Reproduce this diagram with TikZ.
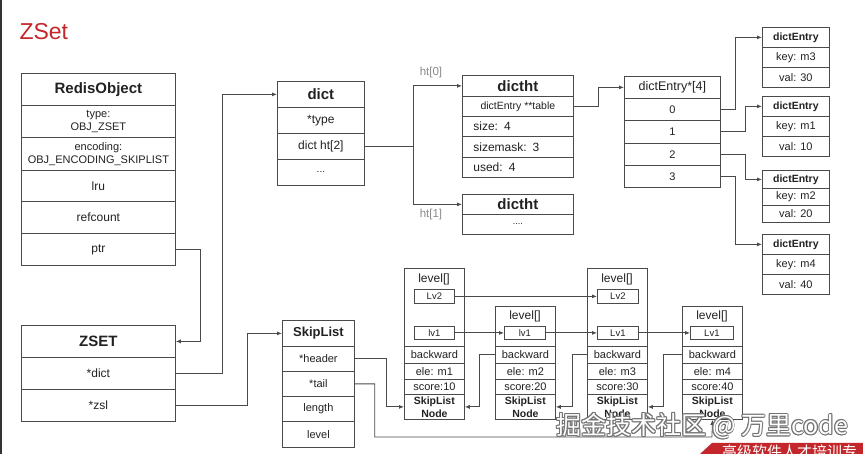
\documentclass[tikz,border=0pt]{standalone}
\usepackage{fontspec}
\setmainfont{Liberation Sans}
\newfontfamily\cjk{Noto Sans CJK SC}
\usetikzlibrary{arrows.meta,calc}
\definecolor{lc}{HTML}{4A4A4A}
\definecolor{tc}{HTML}{222222}
\definecolor{zred}{HTML}{C3272B}
\definecolor{htgray}{HTML}{8A8A8A}
\newcommand\fs[1]{\fontsize{#1}{#1}\selectfont}
% \cb[opts]{name}{x}{y}{w}{h}{text}
\newcommand\cb[7][]{\node[cell,minimum width=#5pt,minimum height=#6pt,#1] (#2) at (#3,#4) {#7};}
\begin{document}
\begin{tikzpicture}[x=1pt,y=-1pt,
  cell/.style={draw=lc,line width=0.8pt,rectangle,inner sep=0pt,anchor=north west,
    align=center,text=tc,font=\fs{11}},
  hd/.style={font=\bfseries\fs{15}},
  two/.style={font=\fontsize{11}{13}\selectfont},
  twob/.style={font=\bfseries\fontsize{10.5}{13}\selectfont},
  lft/.style={text width=#1pt,align=left,font=\fs{12}},
  lvbox/.style={font=\fs{9.5}},
  conn/.style={draw=lc,line width=0.8pt,-{Latex[length=5pt,width=4pt]}},
  plain/.style={draw=lc,line width=0.8pt}]
\useasboundingbox (0,0) rectangle (863,454);
\fill[white] (0,0) rectangle (863,454);
\draw[line width=1.3pt,black!80] (1,0) -- (1,454);

% title
\node[anchor=west,text=zred,font=\fs{23}] (title) at (16,32) {ZSet};

% RedisObject
\cb[hd]{ro}{21}{73}{154}{32}{RedisObject}
\cb[two]{rotype}{21}{105}{154}{32}{type:\\OBJ\_ZSET}
\cb[two]{roenc}{21}{137}{154}{33}{encoding:\\OBJ\_ENCODING\_SKIPLIST}
\cb[font=\fs{12}]{rolru}{21}{170}{154}{31}{lru}
\cb[font=\fs{12}]{rorc}{21}{201}{154}{32}{refcount}
\cb[font=\fs{12}]{roptr}{21}{233}{154}{32}{ptr}

% ZSET
\cb[hd]{zs}{21}{325}{154}{32}{ZSET}
\cb[font=\fs{12}]{zdict}{21}{357}{154}{32}{*dict}
\cb[font=\fs{12}]{zzsl}{21}{389}{154}{32}{*zsl}

% dict
\cb[hd]{dh}{277}{81}{87}{26}{dict}
\cb[font=\fs{12}]{dtype}{277}{107}{87}{26}{*type}
\cb[font=\fs{12}]{dht}{277}{133}{87}{26}{dict ht[2]}
\cb[font=\fs{10}]{ddots}{277}{159}{87}{26}{...}

% dictht 1
\cb[hd]{hA}{462}{75}{111}{21}{dictht}
\cb[font=\fs{10.5}]{hAtbl}{462}{96}{111}{20}{dictEntry **table}
\cb[lft=89]{hAsize}{462}{116}{111}{20}{size: 4}
\cb[lft=89]{hAmask}{462}{136}{111}{21}{sizemask: 3}
\cb[lft=89]{hAused}{462}{157}{111}{20}{used: 4}

% dictht 2
\cb[hd]{hB}{462}{194}{111}{20}{dictht}
\cb[font=\fs{9}]{hBdots}{462}{214}{111}{20}{....}

\node[text=htgray,font=\fs{11.5}] (ht0) at (431,73) {ht[0]};
\node[text=htgray,font=\fs{11.5}] (ht1) at (431,215) {ht[1]};

% dictEntry*[4]
\cb[font=\fs{12.5}]{dea}{624}{76}{96}{22}{dictEntry*[4]}
\cb{da0}{624}{98}{96}{22}{0}
\cb{da1}{624}{120}{96}{23}{1}
\cb{da2}{624}{143}{96}{22}{2}
\cb{da3}{624}{165}{96}{22}{3}

% dict entries
\cb[font=\bfseries\fs{10.5}]{eAh}{762}{27}{67}{20}{dictEntry}
\cb{eAk}{762}{47}{67}{20}{key: m3}
\cb{eAv}{762}{67}{67}{20}{val: 30}
\cb[font=\bfseries\fs{10.5}]{eBh}{762}{96}{67}{20}{dictEntry}
\cb{eBk}{762}{116}{67}{20}{key: m1}
\cb{eBv}{762}{136}{67}{20}{val: 10}
\cb[font=\bfseries\fs{10.5}]{eCh}{762}{170}{67}{18}{dictEntry}
\cb{eCk}{762}{188}{67}{17}{key: m2}
\cb{eCv}{762}{205}{67}{17}{val: 20}
\cb[font=\bfseries\fs{10.5}]{eDh}{762}{234}{67}{20}{dictEntry}
\cb{eDk}{762}{254}{67}{20}{key: m4}
\cb{eDv}{762}{274}{67}{20}{val: 40}

% SkipList
\cb[font=\bfseries\fs{13}]{sl}{282}{320}{72}{26}{SkipList}
\cb{slhead}{282}{346}{72}{25}{*header}
\cb{sltail}{282}{371}{72}{25}{*tail}
\cb{sllen}{282}{396}{72}{25}{length}
\cb{sllev}{282}{421}{72}{26}{level}

% skiplist nodes
% node 1
\cb{nA}{404}{268}{60}{151}{}
\node[font=\fs{12},text=tc] (nAlab) at (434,279) {level[]};
\cb[lvbox]{nAl2}{414}{289}{40}{14}{Lv2}
\cb[lvbox]{nAl1}{414}{326}{40}{13}{lv1}
\cb{nAb}{404}{346}{60}{17}{backward}
\cb{nAe}{404}{363}{60}{16}{ele: m1}
\cb{nAs}{404}{379}{60}{15}{score:10}
\cb[twob]{nAn}{404}{394}{60}{25}{SkipList\\Node}
% node 2
\cb{nB}{495}{306}{60}{113}{}
\node[font=\fs{12},text=tc] (nBlab) at (525,316) {level[]};
\cb[lvbox]{nBl1}{504}{326}{41}{13}{lv1}
\cb{nBb}{495}{346}{60}{17}{backward}
\cb{nBe}{495}{363}{60}{16}{ele: m2}
\cb{nBs}{495}{379}{60}{15}{score:20}
\cb[twob]{nBn}{495}{394}{60}{25}{SkipList\\Node}
% node 3
\cb{nC}{587}{268}{60}{151}{}
\node[font=\fs{12},text=tc] (nClab) at (617,279) {level[]};
\cb[lvbox]{nCl2}{597}{289}{41}{14}{Lv2}
\cb[lvbox]{nCl1}{597}{326}{41}{13}{Lv1}
\cb{nCb}{587}{346}{60}{17}{backward}
\cb{nCe}{587}{363}{60}{16}{ele: m3}
\cb{nCs}{587}{379}{60}{15}{score:30}
\cb[twob]{nCn}{587}{394}{60}{25}{SkipList\\Node}
% node 4
\cb{nD}{682}{306}{60}{113}{}
\node[font=\fs{12},text=tc] (nDlab) at (712,316) {level[]};
\cb[lvbox]{nDl1}{690}{326}{43}{13}{Lv1}
\cb{nDb}{682}{346}{60}{17}{backward}
\cb{nDe}{682}{363}{60}{16}{ele: m4}
\cb{nDs}{682}{379}{60}{15}{score:40}
\cb[twob]{nDn}{682}{394}{60}{25}{SkipList\\Node}

% connectors
\draw[conn] (roptr.east) -- ++(25,0) |- (zs.east);
\draw[conn] (zdict.east) -- ++(47,0) |- (dh.west);
\draw[conn] (zzsl.east) -- ++(72,0) |- (sl.west);
\draw[plain] (dht.east) -- ++(49,0) coordinate (br);
\draw[conn] (br) |- (hA.west);
\draw[conn] (br) |- (hB.west);
\draw[conn] (hAtbl.east) -- ++(25,0) |- (dea.west);
\draw[conn] (da0.east) -- ++(15,0) |- (eAh.west);
\draw[conn] (da1.east) -- ++(25,0) |- (eBh.west);
\draw[conn] (da2.east) -- ++(25,0) |- (eCh.west);
\draw[conn] (da3.east) -- ++(15,0) |- (eDh.west);

\draw[conn] (slhead.east) -- ++(32,0) |- (nAn.west);
\coordinate (tailend) at (712,437);
\draw[conn] (sltail.east) -- ++(20,0) |- (tailend) -- (nDn.south);

\draw[conn] (nAl2.east) -- (nCl2.west);
\draw[conn] (nAl1.east) -- (nBl1.west);
\draw[conn] (nBl1.east) -- (nCl1.west);
\draw[conn] (nCl1.east) -- (nDl1.west);

\draw[conn] (nBb.west) -- ++(-16,0) |- (nAn.east);
\draw[conn] (nCb.west) -- ++(-15,0) |- (nBn.east);
\draw[conn] (nDb.west) -- ++(-19,0) |- (nCn.east);

% watermark
\foreach \dx/\dy [count=\i] in {-0.8/0,0.8/0,0/-0.8,0/0.8,-0.6/-0.6,0.6/0.6,-0.6/0.6,0.6/-0.6}
  \node[anchor=west,text=black!55,font=\cjk\fs{25}] (wmo\i) at (553+\dx,426+\dy) {掘金技术社区 @ 万里code};
\node[anchor=west,text=white,font=\cjk\fs{25}] (wm) at (553,426) {掘金技术社区 @ 万里code};

% banner
\fill[zred] (700,454) -- (712,443) -- (863,443) -- (863,454) -- cycle;
\node[anchor=north west,text=white,font=\cjk\fs{15},inner sep=0pt] (banner) at (722,445) {高级软件人才培训专};
\end{tikzpicture}
\end{document}
